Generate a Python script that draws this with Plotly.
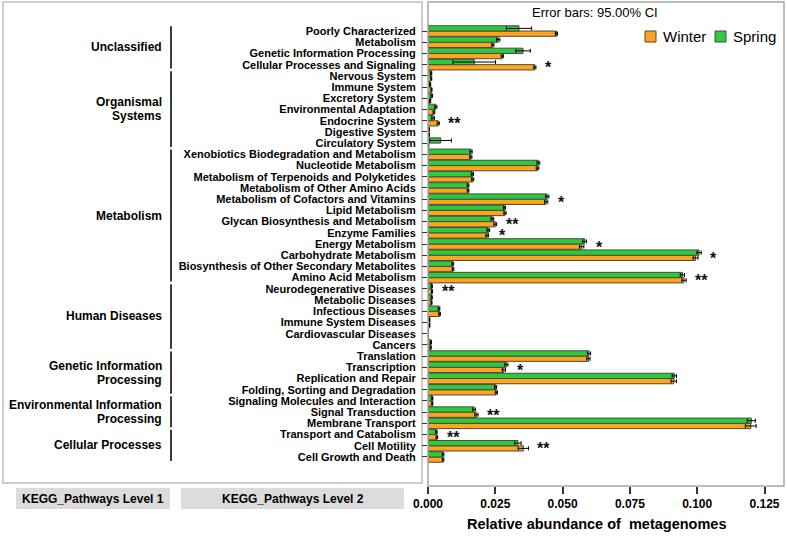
import plotly.graph_objects as go

# ---------------- data ----------------
level2 = [
    "Poorly Characterized", "Metabolism", "Genetic Information Processing",
    "Cellular Processes and Signaling",
    "Nervous System", "Immune System", "Excretory System", "Environmental Adaptation",
    "Endocrine System", "Digestive System", "Circulatory System",
    "Xenobiotics Biodegradation and Metabolism", "Nucleotide Metabolism",
    "Metabolism of Terpenoids and Polyketides", "Metabolism of Other Amino Acids",
    "Metabolism of Cofactors and Vitamins", "Lipid Metabolism",
    "Glycan Biosynthesis and Metabolism", "Enzyme Families", "Energy Metabolism",
    "Carbohydrate Metabolism", "Biosynthesis of Other Secondary Metabolites",
    "Amino Acid Metabolism",
    "Neurodegenerative Diseases", "Metabolic Diseases", "Infectious Diseases",
    "Immune System Diseases", "Cardiovascular Diseases", "Cancers",
    "Translation", "Transcription", "Replication and Repair",
    "Folding, Sorting and Degradation",
    "Signaling Molecules and Interaction", "Signal Transduction", "Membrane Transport",
    "Transport and Catabolism", "Cell Motility", "Cell Growth and Death",
]

level1_names = ["Unclassified", "Organismal<br>Systems", "Metabolism", "Human Diseases",
                "Genetic Information<br>Processing", "Environmental Information<br>Processing",
                "Cellular Processes"]
level1_sizes = [4, 7, 12, 6, 4, 3, 3]

spring = [0.0338, 0.0261, 0.0353, 0.0172, 0.0012, 0.0008, 0.0014, 0.0029, 0.0019, 0.0004, 0.0047,
          0.0160, 0.0410, 0.0165, 0.0149, 0.0443, 0.0284, 0.0239, 0.0224, 0.0582, 0.1007, 0.0092, 0.0945,
          0.0014, 0.0014, 0.0041, 0.0006, 0.0001, 0.0011,
          0.0598, 0.0291, 0.0915, 0.0251,
          0.0016, 0.0171, 0.1201,
          0.0031, 0.0334, 0.0056]
winter = [0.0477, 0.0241, 0.0276, 0.0397, 0.0012, 0.0013, 0.0008, 0.0022, 0.0038, 0.0004, 0.0002,
          0.0159, 0.0407, 0.0166, 0.0149, 0.0439, 0.0286, 0.0250, 0.0220, 0.0571, 0.0994, 0.0093, 0.0951,
          0.0015, 0.0013, 0.0043, 0.0006, 0.0001, 0.0010,
          0.0596, 0.0282, 0.0913, 0.0254,
          0.0016, 0.0180, 0.1199,
          0.0033, 0.0354, 0.0056]
spring_err = [0.0047, 0.0006, 0.0027, 0.0079, 0.0002, 0.0002, 0.0003, 0.0004, 0.0005, 0.0001, 0.0040,
              0.0004, 0.0005, 0.0004, 0.0003, 0.0006, 0.0004, 0.0005, 0.0005, 0.0007, 0.0008, 0.0003, 0.0008,
              0.0002, 0.0002, 0.0003, 0.0001, 0.0001, 0.0002,
              0.0006, 0.0006, 0.0008, 0.0004,
              0.0002, 0.0005, 0.0015,
              0.0003, 0.0012, 0.0003]
winter_err = [0.0004, 0.0004, 0.0004, 0.0004, 0.0002, 0.0002, 0.0002, 0.0003, 0.0004, 0.0001, 0.0001,
              0.0004, 0.0005, 0.0004, 0.0003, 0.0006, 0.0004, 0.0005, 0.0005, 0.0008, 0.0009, 0.0003, 0.0008,
              0.0002, 0.0002, 0.0003, 0.0001, 0.0001, 0.0002,
              0.0006, 0.0006, 0.0010, 0.0004,
              0.0002, 0.0006, 0.0020,
              0.0003, 0.0019, 0.0003]
signif = ["", "", "", "*", "", "", "", "", "**", "", "",
          "", "", "", "", "*", "", "**", "*", "*", "*", "", "**",
          "**", "", "", "", "", "",
          "", "*", "", "",
          "", "**", "",
          "**", "**", ""]

x_ticks = [0.000, 0.025, 0.050, 0.075, 0.100, 0.125]
x_tick_labels = ["0.000", "0.025", "0.050", "0.075", "0.100", "0.125"]
series_names = ["Winter", "Spring"]

# ---------------- layout helpers ----------------
W, H = 787, 540
L, R, T, B = 428, 784, 2, 486
def px(xp):
    return (xp - L) / (R - L)
def py(yp):
    return (B - yp) / (B - T)

ORANGE = "#FFA41B"
GREEN = "#2BCB3B"
EDGE = "#4A4A4A"
SANS = "Liberation Sans, Arial, sans-serif"

idx = list(range(len(level2)))
n = len(level2)

fig = go.Figure()
fig.add_trace(go.Bar(
    name=series_names[0], y=idx, x=winter, orientation="h", offset=0.0, width=0.47,
    marker=dict(color=ORANGE, line=dict(color=EDGE, width=1)),
    error_x=dict(type="data", array=winter_err, color="black", thickness=1, width=2),
    showlegend=False,
))
fig.add_trace(go.Bar(
    name=series_names[1], y=idx, x=spring, orientation="h", offset=-0.47, width=0.47,
    marker=dict(color=GREEN, line=dict(color=EDGE, width=1)),
    error_x=dict(type="data", array=spring_err, color="black", thickness=1, width=2),
    showlegend=False,
))

shapes = []
annotations = []

# left panel frame
shapes.append(dict(type="rect", xref="paper", yref="paper", x0=px(3), x1=px(422), y0=py(483), y1=py(2),
                   line=dict(color="#BDBDBD", width=1.5), fillcolor="rgba(0,0,0,0)", layer="below"))
# plot frame
shapes.append(dict(type="rect", xref="paper", yref="paper", x0=0, x1=1, y0=0, y1=1,
                   line=dict(color="#A8A8A8", width=1.5), fillcolor="rgba(0,0,0,0)"))

# level 1 brackets and labels
start = 0
for name, size in zip(level1_names, level1_sizes):
    first, last = start, start + size - 1
    y0, y1 = first - 0.42, last + 0.35
    shapes.append(dict(type="line", xref="paper", yref="y", x0=px(171), x1=px(171), y0=y0, y1=y1,
                       line=dict(color="#3C3C3C", width=2)))
    lines = name.split("<br>")
    nl = len(lines)
    for k, line in enumerate(lines):
        annotations.append(dict(xref="paper", yref="y", x=px(164), y=(y0 + y1) / 2, text=line,
                                showarrow=False, xanchor="right", yanchor="middle", align="right",
                                yshift=-(k - (nl - 1) / 2) * 14,
                                font=dict(family=SANS, size=12, color="black", weight="bold")))
    start += size

# significance stars
for i, s in enumerate(signif):
    if s:
        xm = max(winter[i] + winter_err[i], spring[i] + spring_err[i])
        annotations.append(dict(xref="x", yref="y", x=xm, y=i, text=s, showarrow=False,
                                xanchor="left", yanchor="middle", xshift=7, yshift=-3,
                                font=dict(family=SANS, size=16, color="#111111", weight="bold")))

# bottom panel labels
for (x0, x1, label) in [(16, 170, "KEGG_Pathways Level 1"), (181, 404, "KEGG_Pathways Level 2")]:
    shapes.append(dict(type="rect", xref="paper", yref="paper", x0=px(x0), x1=px(x1), y0=py(509), y1=py(488),
                       line=dict(width=0), fillcolor="#DCDCDC"))
    annotations.append(dict(xref="paper", yref="paper", x=px((x0 + x1) / 2), y=py(498.5), text=label,
                            showarrow=False, xanchor="center", yanchor="middle",
                            font=dict(family=SANS, size=12, color="black", weight="bold")))

# legend (drawn manually to match swatch/text spacing)
for (sx, color, label) in [(645, ORANGE, series_names[0]), (715, GREEN, series_names[1])]:
    shapes.append(dict(type="rect", xref="paper", yref="paper", x0=px(sx), x1=px(sx + 11),
                       y0=py(42), y1=py(31), fillcolor=color, line=dict(color=EDGE, width=1)))
    annotations.append(dict(xref="paper", yref="paper", x=px(sx + 16), y=py(36.5), text=label,
                            showarrow=False, xanchor="left", yanchor="middle",
                            font=dict(family=SANS, size=15, color="black")))

# error bar note
annotations.append(dict(xref="paper", yref="paper", x=px(595), y=py(12), text="Error bars: 95.00% CI",
                        showarrow=False, xanchor="center", yanchor="middle",
                        font=dict(family=SANS, size=13, color="black")))
# x title
annotations.append(dict(xref="paper", yref="paper", x=px(596), y=py(524),
                        text="Relative abundance of  metagenomes", showarrow=False,
                        xanchor="center", yanchor="middle",
                        font=dict(family=SANS, size=14.5, color="black", weight="bold")))

fig.update_layout(
    width=W, height=H,
    margin=dict(l=L, r=W - R, t=T, b=H - B),
    paper_bgcolor="white", plot_bgcolor="white",
    barmode="overlay",
    showlegend=False,
    shapes=shapes,
    annotations=annotations,
    xaxis=dict(range=[0, (R - L) / 2692.0], tickvals=x_ticks, ticktext=x_tick_labels,
               ticks="outside", ticklen=7, tickwidth=1.5, tickcolor="#333333",
               showgrid=False, zeroline=False, showline=False,
               tickfont=dict(family=SANS, size=12, color="black", weight="bold")),
    yaxis=dict(range=[n - 1 + 2.59, -2.59], tickvals=idx, ticktext=level2,
               ticks="outside", ticklen=5, tickwidth=1, tickcolor="#333333",
               showgrid=False, zeroline=False, showline=False, automargin=False,
               ticklabelstandoff=4,
               tickfont=dict(family=SANS, size=11, color="black", weight="bold")),
)

fig.write_html("out.html", config={"displayModeBar": False},
               post_script="document.body.style.margin='0px';")
